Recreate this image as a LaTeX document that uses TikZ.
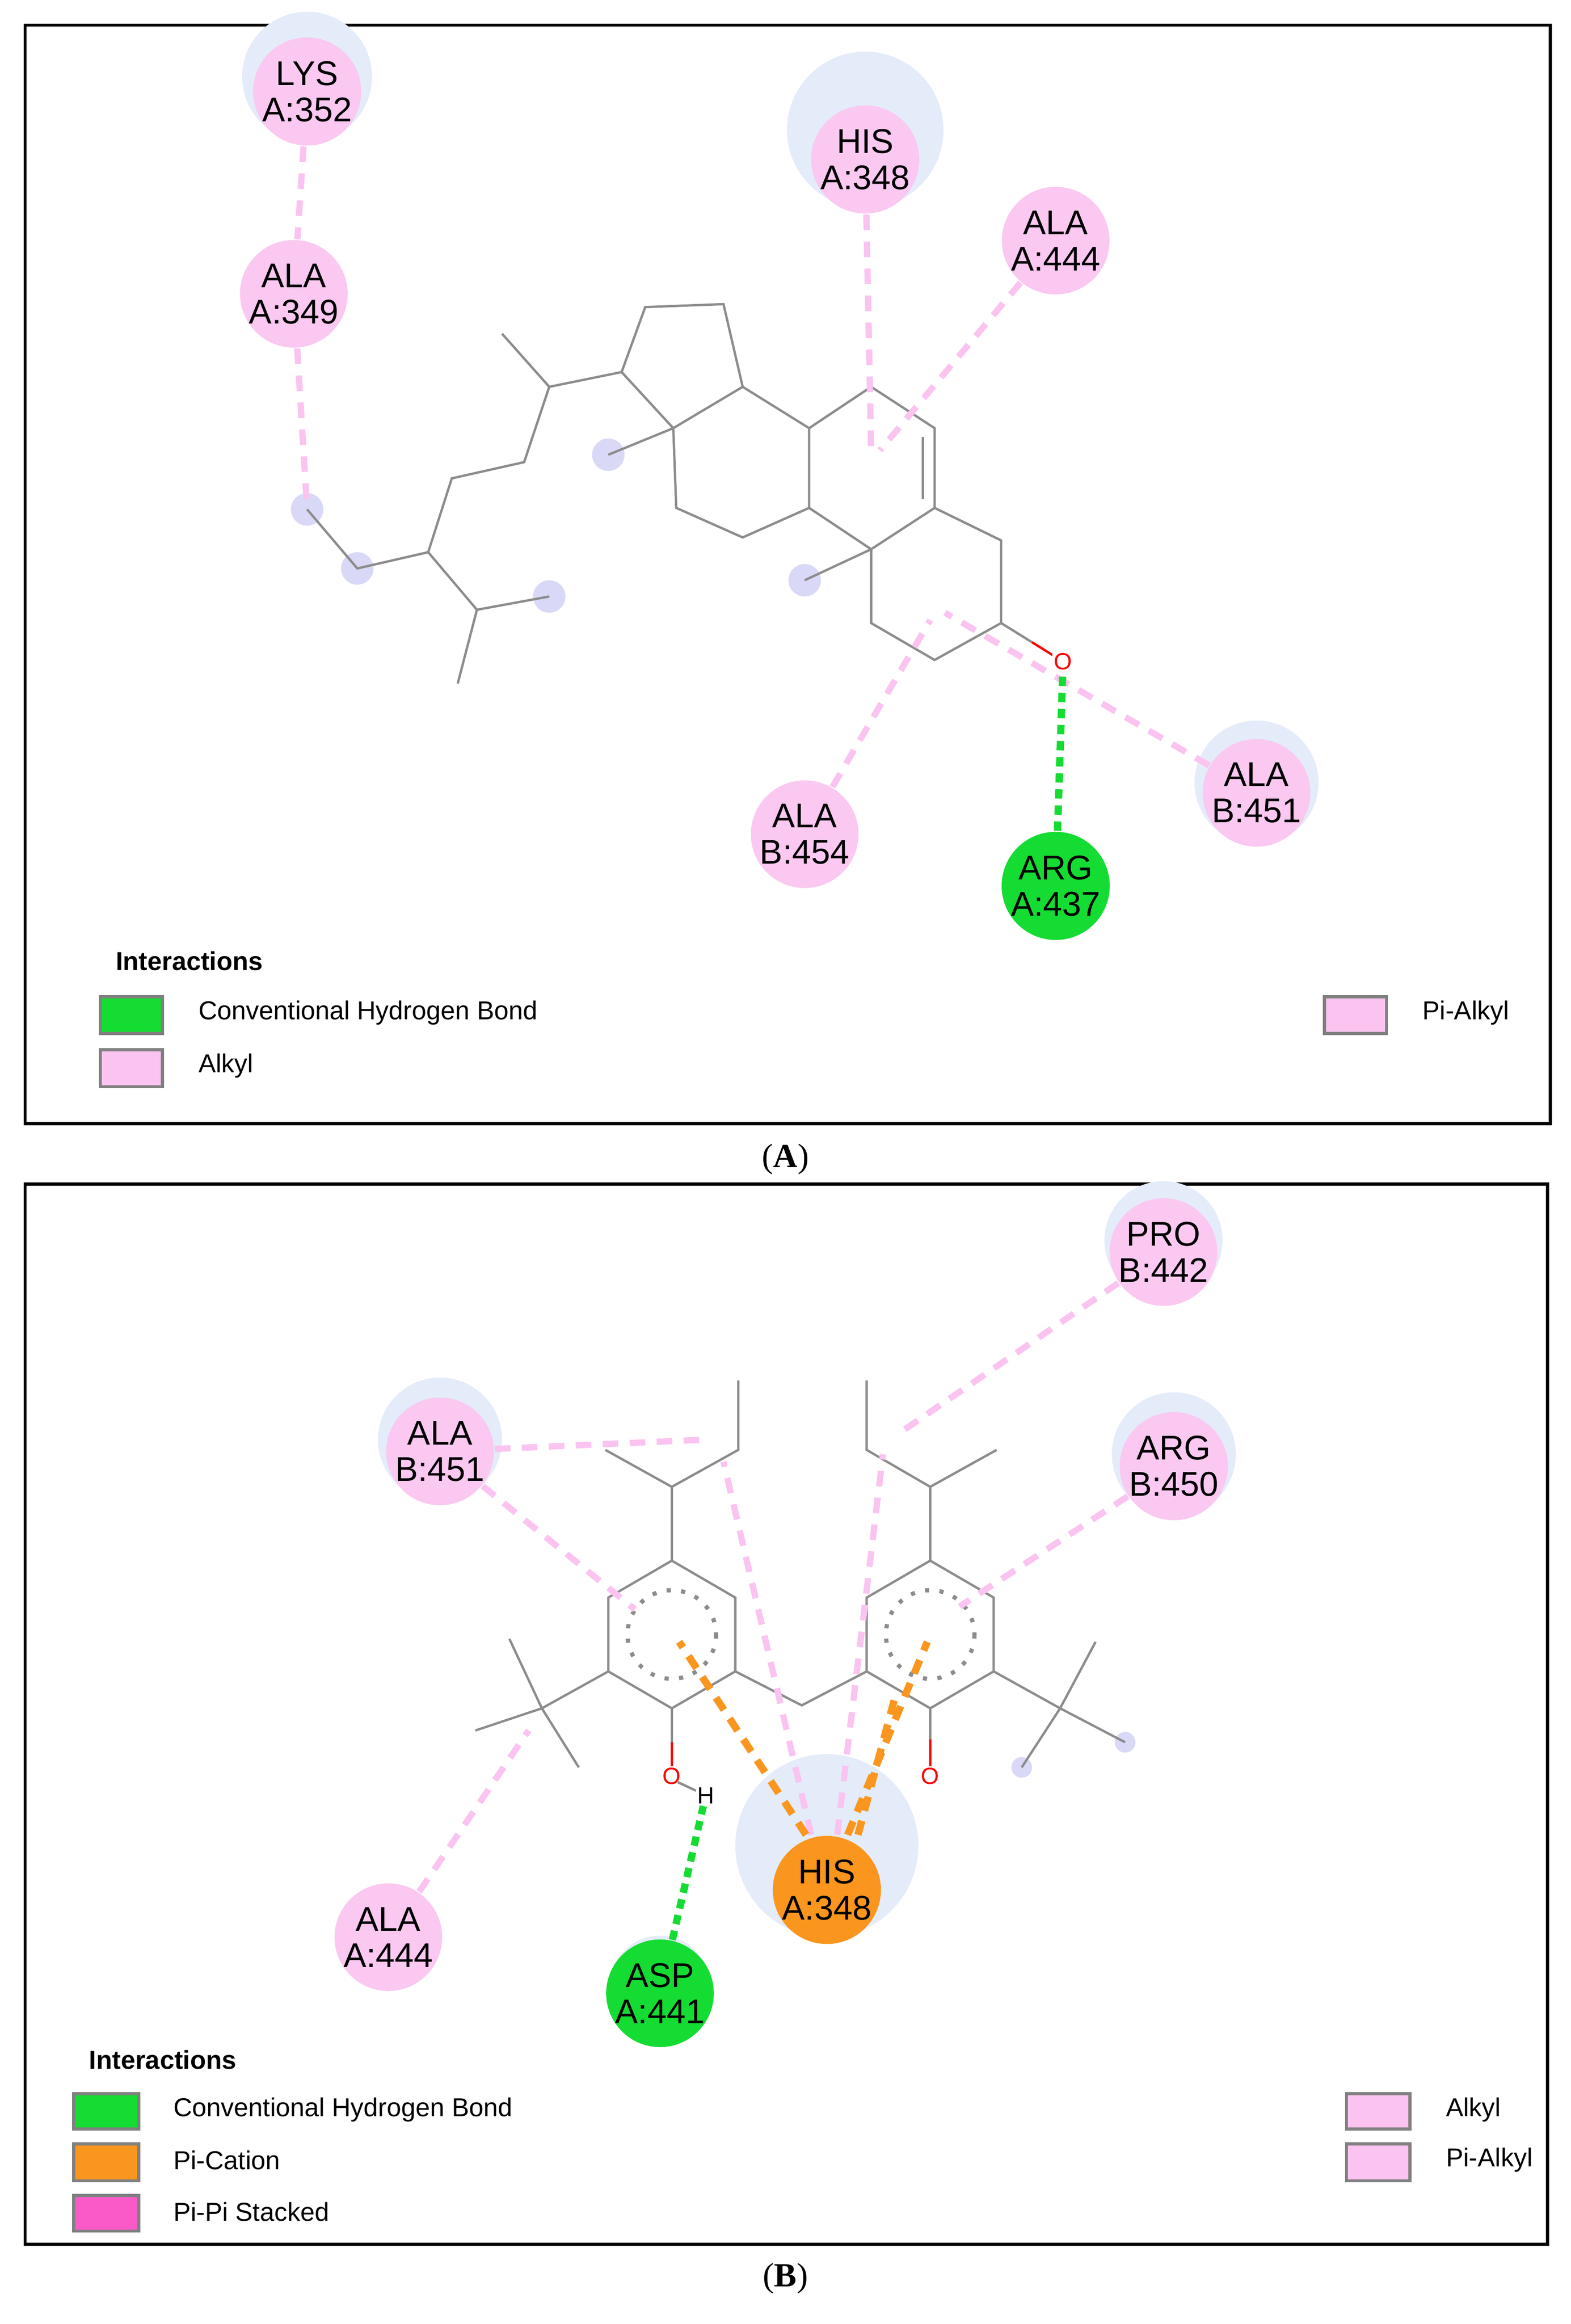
\documentclass[tikz,border=0pt]{standalone}
\usepackage{fontspec}
\setmainfont{Liberation Serif}
\newfontfamily\dsfont{Liberation Sans}
\begin{document}
\begin{tikzpicture}[x=0.01cm,y=-0.01cm,
 res/.style={circle,fill=resp,minimum size=6.6mm,inner sep=0pt,align=center,font=\dsfont\fontsize{6.6}{7}\selectfont},
 hb/.style={res,fill=hbg},
 pc/.style={res,fill=pcat},
 bond/.style={draw=bondg,line width=0.45pt},
 alk/.style={draw=alkp,line width=1.2pt,dash pattern=on 3pt off 2.2pt},
 hbd/.style={draw=hbg,line width=1.4pt,dash pattern=on 1.8pt off 1.3pt},
 pcd/.style={draw=pcat,line width=1.4pt,dash pattern=on 2.8pt off 2pt},
 frame/.style={draw=black,line width=0.6pt},
 lbox/.style={draw=gray,line width=0.6pt},
 ltext/.style={anchor=west,font=\dsfont\fontsize{5}{6}\selectfont},
 lhead/.style={anchor=west,font=\dsfont\bfseries\fontsize{5}{6}\selectfont},
 atom/.style={font=\dsfont\fontsize{4.5}{5}\selectfont,inner sep=0.3pt,fill=white},
 captext/.style={font=\fontsize{6.5}{7.5}\selectfont}]
\definecolor{resp}{RGB}{250,200,240}
\definecolor{hbg}{RGB}{20,220,50}
\definecolor{pcat}{RGB}{250,150,30}
\definecolor{halob}{RGB}{228,236,250}
\definecolor{bondg}{RGB}{140,140,140}
\definecolor{alkp}{RGB}{250,195,240}
\definecolor{pipi}{RGB}{250,90,200}
\definecolor{blob}{RGB}{180,180,240}
\useasboundingbox (0,0) rectangle (1064,1574);
\fill[white] (0,0) rectangle (1064,1574);
% ===== Panel A =====
\draw[frame] (17,17) rectangle (1050,761);
\node[captext] (capA) at (532,785) {(\textbf{A})};
\fill[halob] (208,52) circle (44);
\fill[halob] (586,88) circle (53);
\fill[halob] (851,530) circle (42);
\foreach \p in {(208,345),(242,385),(372,404),(412,308),(545,393)} \fill[blob,opacity=0.5] \p circle (11);
\draw[bond] (208,345)--(242,385)--(290,374)--(323,413)--(372,404);
\draw[bond] (323,413)--(310,463);
\draw[bond] (290,374)--(306,324)--(355,313)--(372,262)--(340,226);
\draw[bond] (372,262)--(421,252);
\draw[bond] (421,252)--(437,208)--(490,206)--(503,262)--(456,290)--cycle;
\draw[bond] (456,290)--(412,308);
\draw[bond] (456,290)--(458,344)--(503,364)--(548,344)--(548,290)--(503,262);
\draw[bond] (548,290)--(590,262)--(633,290)--(633,344)--(590,372)--(548,344);
\draw[bond] (625,296)--(625,338);
\draw[bond] (590,372)--(545,393);
\draw[bond] (590,372)--(590,422)--(633,447)--(678,422)--(678,366)--(633,344);
\draw[bond] (678,422)--(699,435);
\draw[red,line width=0.45pt] (699,435)--(715,445);
\node[atom,text=red] (OA) at (720,448) {O};
\node[res] (lys) at (208,62) {LYS\\A:352};
\node[res] (ala349) at (199,199) {ALA\\A:349};
\node[res] (his348) at (586,108) {HIS\\A:348};
\node[res] (ala444) at (715,163) {ALA\\A:444};
\node[res] (ala454) at (545,565) {ALA\\B:454};
\node[hb] (arg437) at (715,600) {ARG\\A:437};
\node[res] (ala451) at (851,537) {ALA\\B:451};
\coordinate (a1) at (208,345);
\coordinate (a2) at (590,305);
\coordinate (a3) at (596,305);
\coordinate (a4) at (630,420);
\coordinate (a5) at (640,415);
\draw[alk] (lys)--(ala349);
\draw[alk] (ala349)--(a1);
\draw[alk] (his348)--(a2);
\draw[alk] (ala444)--(a3);
\draw[alk] (ala454)--(a4);
\draw[alk] (ala451)--(a5);
\draw[hbd] (arg437)--(OA);
\node[lhead] (ihA) at (66,651) {Interactions};
\draw[lbox,fill=hbg] (68,675) rectangle (110,700);
\node[ltext] (l1) at (122,686) {Conventional Hydrogen Bond};
\draw[lbox,fill=alkp] (68,711) rectangle (110,736);
\node[ltext] (l2) at (122,722) {Alkyl};
\draw[lbox,fill=alkp] (897,675) rectangle (939,700);
\node[ltext] (l3) at (951,686) {Pi-Alkyl};
% ===== Panel B =====
\draw[frame] (17,802) rectangle (1048,1520);
\node[captext] (capB) at (532,1543) {(\textbf{B})};
\fill[halob] (560,1250) circle (62);
\fill[halob] (298,975) circle (42);
\fill[halob] (795,985) circle (42);
\fill[halob] (788,840) circle (40);
\fill[halob] (447,1345) circle (34);
\foreach \p in {(692,1197),(762,1180)} \fill[blob,opacity=0.5] \p circle (7);
\draw[bond] (455,1057)--(498,1082)--(498,1132)--(455,1157)--(412,1132)--(412,1082)--cycle;
\draw[bond] (630,1057)--(673,1082)--(673,1132)--(630,1157)--(587,1132)--(587,1082)--cycle;
\draw[bondg,dotted,line width=0.8pt] (455,1107) circle (30);
\draw[bondg,dotted,line width=0.8pt] (630,1107) circle (30);
\draw[bond] (498,1132)--(543,1155)--(587,1132);
\draw[bond] (455,1057)--(455,1007)--(410,982);
\draw[bond] (455,1007)--(500,982)--(500,935);
\draw[bond] (630,1057)--(630,1007)--(675,982);
\draw[bond] (630,1007)--(587,982)--(587,935);
\draw[bond] (412,1132)--(367,1157)--(345,1110);
\draw[bond] (367,1157)--(322,1172);
\draw[bond] (367,1157)--(392,1197);
\draw[bond] (673,1132)--(718,1157)--(742,1112);
\draw[bond] (718,1157)--(762,1180);
\draw[bond] (718,1157)--(692,1197);
\draw[bond] (455,1157)--(455,1180);
\draw[red,line width=0.45pt] (455,1180)--(455,1197);
\node[atom,text=red] (OB1) at (455,1203) {O};
\draw[bondg,line width=0.45pt] (459,1207)--(474,1214);
\node[atom] (HB) at (478,1216) {H};
\draw[bond] (630,1157)--(630,1178);
\draw[red,line width=0.45pt] (630,1178)--(630,1197);
\node[atom,text=red] (OB2) at (630,1203) {O};
\node[res] (pro442) at (788,848) {PRO\\B:442};
\node[res] (ala451b) at (298,983) {ALA\\B:451};
\node[res] (arg450) at (795,993) {ARG\\B:450};
\node[res] (ala444b) at (263,1312) {ALA\\A:444};
\node[hb] (asp441) at (447,1350) {ASP\\A:441};
\node[pc] (his348b) at (560,1280) {HIS\\A:348};
\coordinate (b1) at (478,975);
\coordinate (b2) at (430,1090);
\coordinate (b3) at (610,970);
\coordinate (b4) at (650,1088);
\coordinate (b5) at (358,1172);
\coordinate (b6) at (490,990);
\coordinate (b7) at (598,985);
\coordinate (b8) at (460,1112);
\coordinate (b9) at (628,1112);
\coordinate (b10) at (606,1150);
\draw[alk] (ala451b)--(b1);
\draw[alk] (ala451b)--(b2);
\draw[alk] (pro442)--(b3);
\draw[alk] (arg450)--(b4);
\draw[alk] (ala444b)--(b5);
\draw[alk] ([xshift=-3pt]his348b.north)--(b6);
\draw[alk] ([xshift=2pt]his348b.north)--(b7);
\draw[pcd] ([xshift=-4pt]his348b.north)--(b8);
\draw[pcd] ([xshift=4pt]his348b.north)--(b9);
\draw[pcd] ([xshift=6pt]his348b.north)--(b10);
\draw[hbd] (asp441)--(HB);
\node[lhead] (ihB) at (48,1395) {Interactions};
\draw[lbox,fill=hbg] (50,1418) rectangle (94,1442);
\node[ltext] (m1) at (105,1429) {Conventional Hydrogen Bond};
\draw[lbox,fill=pcat] (50,1452) rectangle (94,1477);
\node[ltext] (m2) at (105,1463) {Pi-Cation};
\draw[lbox,fill=pipi] (50,1487) rectangle (94,1511);
\node[ltext] (m3) at (105,1498) {Pi-Pi Stacked};
\draw[lbox,fill=alkp] (912,1418) rectangle (955,1442);
\node[ltext] (m4) at (967,1429) {Alkyl};
\draw[lbox,fill=alkp] (912,1452) rectangle (955,1477);
\node[ltext] (m5) at (967,1463) {Pi-Alkyl};
\end{tikzpicture}
\end{document}
